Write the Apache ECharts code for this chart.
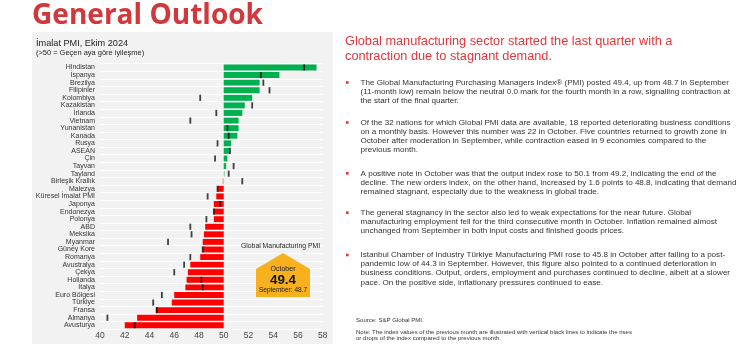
<!DOCTYPE html>
<html><head><meta charset="utf-8">
<script src="https://cdn.jsdelivr.net/npm/echarts@6/dist/echarts.min.js"></script>
<style>html,body{margin:0;padding:0;background:#fff;}#c{width:740px;height:350px;}</style>
</head><body><div id="c"></div>
<script>
const categories = ["Hindistan","İspanya","Brezilya","Filipinler","Kolombiya","Kazakistan","İrlanda","Vietnam","Yunanistan","Kanada","Rusya","ASEAN","Çin","Tayvan","Tayland","Birleşik Krallık","Malezya","Küresel İmalat PMI","Japonya","Endonezya","Polonya","ABD","Meksika","Myanmar","Güney Kore","Romanya","Avustralya","Çekya","Hollanda","İtalya","Euro Bölgesi","Türkiye","Fransa","Almanya","Avusturya"];
const october = [57.5,54.5,52.9,52.9,52.3,51.7,51.5,51.2,51.2,51.1,50.6,50.5,50.3,50.2,50.1,49.9,49.5,49.4,49.2,49.2,49.2,48.5,48.4,48.3,48.3,48.1,47.3,47.1,47.0,46.9,46.0,45.8,44.5,43.0,42.0];
const september = [56.5,53.0,53.2,53.7,48.1,52.3,49.4,47.3,50.3,50.4,49.5,50.5,49.3,50.8,50.4,51.5,49.5,48.7,49.7,49.2,48.6,47.3,47.4,45.5,48.3,47.3,46.8,46.0,48.2,48.3,45.0,44.3,44.6,40.6,42.8];
const xTicks = [40,42,44,46,48,50,52,54,56,58];
const neutral = 50;

const globalIdx = categories.indexOf("Küresel İmalat PMI");

const bullets = [
 ["The Global Manufacturing Purchasing Managers Index® (PMI) posted 49.4, up from 48.7 in September",
  "(11-month low) remain below the neutral 0.0 mark for the fourth month in a row, signalling contraction at",
  "the start of the final quarter."],
 ["Of the 32 nations for which Global PMI data are available, 18 reported deteriorating business conditions",
  "on a monthly basis. However this number was 22 in October. Five countries returned to growth zone in",
  "October after moderation in September, while contraction eased in 9 economies compared to the",
  "previous month."],
 ["A positive note in October was that the output index rose to 50.1 from 49.2, indicating the end of the",
  "decline. The new orders index, on the other hand, increased by 1.6 points to 48.8, indicating that demand",
  "remained stagnant, especially due to the weakness in global trade."],
 ["The general stagnancy in the sector also led to weak expectations for the near future. Global",
  "manufacturing employment fell for the third consecutive month in October. Inflation remained almost",
  "unchanged from September in both input costs and finished goods prices."],
 ["Istanbul Chamber of Industry Türkiye Manufacturing PMI rose to 45.8 in October after falling to a post-",
  "pandemic low of 44.3 in September. However, this figure also pointed to a continued deterioration in",
  "business conditions. Output, orders, employment and purchases continued to decline, albeit at a slower",
  "pace. On the positive side, inflationary pressures continued to ease."]
];
const bulletY = [82.5, 122.5, 173.3, 212.7, 255];

function barColor(v){
  const d = v - neutral;
  if (Math.abs(d) <= 0.1 + 1e-9) return d > 0 ? '#8fd8a8' : '#f59a9a';
  return d > 0 ? '#00b050' : '#ff0000';
}

const baseData = october.map(v => Math.min(v, neutral));
const deltaData = october.map(v => ({value: Math.abs(v - neutral), itemStyle:{color: barColor(v)}}));
const markData = september.map((v,i) => [v, categories[i]]);

const FF = '"Liberation Sans", Arial, sans-serif';
const FT = '"Open Sans", "Liberation Sans", sans-serif';
const mctx = document.createElement('canvas').getContext('2d');
function fit(text, weight, family, target){
  let s = 10;
  for (let k = 0; k < 5; k++){
    mctx.font = weight + ' ' + s + 'px ' + family;
    const w = mctx.measureText(text).width;
    s = s * target / w;
  }
  return Math.round(s * 100) / 100;
}
function T(x, y, text, size, opts){
  return {type:'text', z:100, x:x, y:y, style:Object.assign({text:text, fontSize:size, fontFamily:FF, fill:'#222', align:'left', verticalAlign:'middle'}, opts||{})};
}
const sTitle = fit('General Outlook', 'bold', FT, 231);
const sHead = fit('Global manufacturing sector started the last quarter with a', 'normal', FF, 327);
const sBody = fit(bullets[0][0], 'normal', FF, 367.5);
const sNote = fit('Note: The index values of the previous month are illustrated with vertical black lines to indicate the rises', 'normal', FF, 276);
const sCT = fit('İmalat PMI, Ekim 2024', 'normal', FF, 92);
const sSub = fit('(>50 = Geçen aya göre iyileşme)', 'normal', FF, 108);
const sGM = fit('Global Manufacturing PMI', 'normal', FF, 79);
const sSep = fit('September: 48.7', 'normal', FF, 48);
const sOct = fit('October', 'normal', FF, 25);
const sVal = fit('49.4', 'bold', FF, 26);

const graphics = [
  {type:'rect', shape:{x:32,y:32,width:301,height:312}, style:{fill:'#f2f2f2'}, z:-10},
  T(32, 16, 'General Outlook', sTitle, {fontWeight:'bold', fontFamily:FT, fill:'#d2373c'}),
  T(36, 43.5, 'İmalat PMI, Ekim 2024', sCT, {}),
  T(36, 53, '(>50 = Geçen aya göre iyileşme)', sSub, {}),
  T(280.5, 246, 'Global Manufacturing PMI', sGM, {align:'center'}),
  {type:'polygon', z:99, shape:{points:[[283,253],[310,269],[310,297],[256,297],[256,269]]}, style:{fill:'#f7b01e'}},
  T(283, 269.5, 'October', sOct, {align:'center'}),
  T(283, 280.5, october[globalIdx].toFixed(1), sVal, {align:'center', fontWeight:'bold', fill:'#111'}),
  T(283, 290.5, 'September: ' + september[globalIdx].toFixed(1), sSep, {align:'center'}),
  T(345, 41, 'Global manufacturing sector started the last quarter with a', sHead, {fill:'#e0363c'}),
  T(345, 56.5, 'contraction due to stagnant demand.', sHead, {fill:'#e0363c'}),
  T(356, 320, 'Source: S&P Global PMI.', sNote, {fill:'#333'}),
  T(356, 332.7, 'Note: The index values of the previous month are illustrated with vertical black lines to indicate the rises', sNote, {fill:'#333'}),
  T(356, 338.6, 'or drops of the index compared to the previous month.', sNote, {fill:'#333'})
];
const LH = 9.1;
bullets.forEach((lines, i) => {
  graphics.push({type:'rect', z:100, shape:{x:346, y:bulletY[i]-1.3, width:2.6, height:2.6}, style:{fill:'#e0363c'}});
  lines.forEach((ln, j) => graphics.push(T(360.5, bulletY[i] + j*LH, ln, sBody, {fill:'#333'})));
});

const chart = echarts.init(document.getElementById('c'), null, {renderer:'canvas'});
chart.setOption({
  animation:false,
  backgroundColor:'#ffffff',
  grid:{left:100, right:417.3, top:63.7, bottom:20.9, containLabel:false},
  xAxis:{type:'value', min:40, max:58, interval:2,
    axisLine:{show:false}, axisTick:{show:false}, splitLine:{show:false},
    axisLabel:{color:'#444', fontSize:8.5, fontFamily:FF, margin:2,
      formatter: v => xTicks.includes(v) ? String(v) : ''}},
  yAxis:{type:'category', data:categories, inverse:true,
    axisLine:{show:false}, axisTick:{show:false},
    splitLine:{show:true, interval:0, lineStyle:{color:'#ffffff', width:1}},
    axisLabel:{color:'#333', fontSize:7, fontFamily:FF, margin:5, interval:0}},
  series:[
    {type:'bar', stack:'pmi', data:baseData, itemStyle:{color:'rgba(0,0,0,0)'}, silent:true, barCategoryGap:'22%'},
    {type:'bar', stack:'pmi', data:deltaData, barCategoryGap:'22%'},
    {type:'scatter', data:markData, symbol:'rect', symbolSize:[1.8,6.2], itemStyle:{color:'#111'}, z:5}
  ],
  graphic: graphics
});
</script></body></html>
